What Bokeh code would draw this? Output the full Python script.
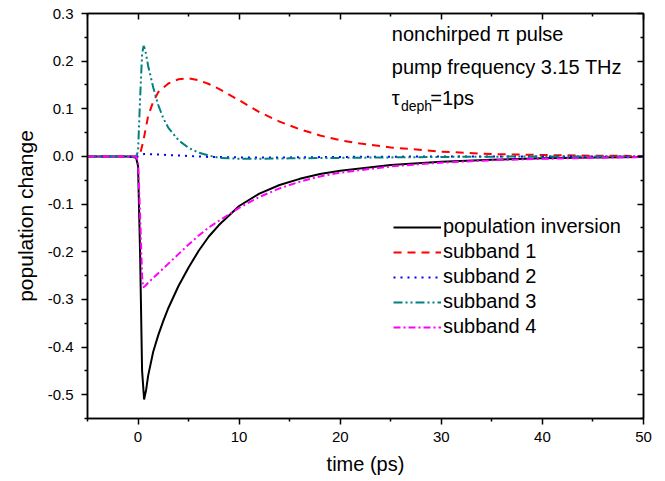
from bokeh.plotting import figure
from bokeh.models import (LinearAxis, FixedTicker, Label, Legend, LegendItem,
                          NumeralTickFormatter, Range1d, CustomJSTickFormatter)
from bokeh.embed import file_html
from bokeh.resources import INLINE

# ---------------- data ----------------
t_inv = [-5, -1, -0.2, 0, 0.2, 0.4, 0.6, 0.8, 1, 1.5, 2, 2.5, 3, 4, 5, 6, 7, 8, 10,
         12, 14, 16, 18, 20, 25, 30, 35, 40, 45, 50]
inversion = [0, 0, -0.002, -0.02, -0.2, -0.45, -0.51, -0.49, -0.46, -0.41, -0.375, -0.345,
             -0.318, -0.272, -0.233, -0.198, -0.168, -0.144, -0.104, -0.078, -0.06, -0.047,
             -0.037, -0.03, -0.018, -0.011, -0.007, -0.004, -0.002, -0.001]

t_s1 = [-5, 0, 0.2, 0.5, 1, 1.5, 2, 3, 4, 5, 6, 7, 8, 10, 12, 14, 16, 18, 20, 22, 25, 30,
        35, 40, 45, 50]
sub1 = [0, 0, 0.005, 0.03, 0.085, 0.115, 0.135, 0.153, 0.162, 0.164, 0.16, 0.152, 0.142,
        0.118, 0.093, 0.073, 0.057, 0.044, 0.034, 0.027, 0.019, 0.01, 0.005, 0.003, 0.0015, 0.001]

t_s2 = [-5, 0, 0.3, 0.6, 1, 2, 3, 5, 7, 10, 15, 20, 30, 50]
sub2 = [0, 0, 0.003, 0.005, 0.005, 0.004, 0.003, 0.001, -0.001, -0.002, -0.002, -0.001, 0, 0]

t_s3 = [-5, -0.2, 0, 0.2, 0.4, 0.55, 0.7, 1, 1.5, 2, 2.5, 3, 4, 5, 6, 7, 8, 10, 12, 15,
        20, 25, 30, 40, 50]
sub3 = [0, 0, 0.01, 0.12, 0.215, 0.232, 0.225, 0.19, 0.145, 0.108, 0.08, 0.06, 0.034, 0.018,
        0.008, 0.002, -0.003, -0.005, -0.005, -0.004, -0.003, -0.002, -0.001, 0, 0]

t_s4 = [-5, -0.2, 0, 0.2, 0.4, 0.5, 0.7, 1, 2, 3, 4, 5, 6, 7, 8, 10, 12, 14, 16, 18, 20,
        25, 30, 35, 40, 45, 50]
sub4 = [0, 0, -0.01, -0.12, -0.25, -0.275, -0.272, -0.265, -0.245, -0.225, -0.205, -0.185,
        -0.166, -0.149, -0.135, -0.108, -0.085, -0.067, -0.053, -0.042, -0.034, -0.021,
        -0.013, -0.008, -0.005, -0.003, -0.001]

x_ticks = [0, 10, 20, 30, 40, 50]
x_minor = [-5, 5, 15, 25, 35, 45]
y_ticks = [-0.5, -0.4, -0.3, -0.2, -0.1, 0.0, 0.1, 0.2, 0.3]
y_minor = [-0.55, -0.45, -0.35, -0.25, -0.15, -0.05, 0.05, 0.15, 0.25]

legend_labels = ["population inversion", "subband 1", "subband 2", "subband 3", "subband 4"]
annot_lines = ["nonchirped \u03c0 pulse", "pump frequency 3.15 THz"]

FONT = "Liberation Sans"

p = figure(width=657, height=481, output_backend="svg", toolbar_location=None,
           x_range=Range1d(-5, 50), y_range=Range1d(-0.55, 0.3),
           min_border_left=87, min_border_right=14, min_border_top=13, min_border_bottom=63)
p.grid.visible = False
p.outline_line_color = "black"
p.outline_line_width = 1.5
p.background_fill_color = "white"

for ax in p.xaxis:
    ax.ticker = FixedTicker(ticks=x_ticks, minor_ticks=x_minor)
    ax.axis_label = "time (ps)"
    ax.axis_label_text_font_size = "20px"
    ax.major_label_standoff = 7
    ax.axis_label_standoff = 8
for ax in p.yaxis:
    ax.ticker = FixedTicker(ticks=y_ticks, minor_ticks=y_minor)
    ax.axis_label = "population change"
    ax.formatter = NumeralTickFormatter(format="0.0")
    ax.axis_label_text_font_size = "21px"
    ax.major_label_standoff = 8
    ax.axis_label_standoff = 8

for ax in list(p.xaxis) + list(p.yaxis):
    ax.axis_line_width = 1.5
    ax.major_tick_line_width = 1.5
    ax.minor_tick_line_width = 1.5
    ax.major_tick_out = 6
    ax.major_tick_in = 0
    ax.minor_tick_out = 3
    ax.minor_tick_in = 0
    ax.major_label_text_font = FONT
    ax.major_label_text_font_size = "15px"
    ax.major_label_text_color = "black"
    ax.axis_label_text_font = FONT
    ax.axis_label_text_font_style = "normal"
    ax.axis_label_text_color = "black"

top = LinearAxis(ticker=FixedTicker(ticks=x_ticks, minor_ticks=x_minor))
right = LinearAxis(ticker=FixedTicker(ticks=y_ticks, minor_ticks=y_minor))
for ax in (top, right):
    ax.axis_line_width = 1.5
    ax.major_tick_line_width = 1.5
    ax.minor_tick_line_width = 1.5
    ax.major_tick_in = 6
    ax.major_tick_out = 0
    ax.minor_tick_in = 3
    ax.minor_tick_out = 0
    ax.formatter = CustomJSTickFormatter(code="return ''")
    ax.major_label_standoff = 0
p.add_layout(top, "above")
p.add_layout(right, "right")

r0 = p.line(t_inv, inversion, line_color="black", line_width=2)
r1 = p.line(t_s1, sub1, line_color="#ff0000", line_width=2, line_dash="8 6")
r2 = p.line(t_s2, sub2, line_color="#0000ff", line_width=2, line_dash="2 5")
r3 = p.line(t_s3, sub3, line_color="#008080", line_width=2, line_dash="9 3 2 3 2 3")
r4 = p.line(t_s4, sub4, line_color="#ff00ff", line_width=2, line_dash="7 3 2 3")

legend = Legend(items=[LegendItem(label=l, renderers=[r]) for l, r in
                       zip(legend_labels, [r0, r1, r2, r3, r4])],
                location=(306, 80), padding=0, margin=0, spacing=2,
                glyph_width=48, glyph_height=22, label_height=22, label_standoff=2,
                label_text_font=FONT, label_text_font_size="20px", label_text_color="black",
                border_line_alpha=0, background_fill_alpha=0)
p.add_layout(legend, "center")

for i, txt in enumerate(annot_lines):
    p.add_layout(Label(x=25.1, y=[0.258, 0.187][i], text=txt, text_font=FONT,
                       text_font_size="20px", text_baseline="middle", text_color="black"))
p.add_layout(Label(x=25.1, y=0.122, text="\u03c4", text_font=FONT, text_font_size="20px",
                   text_baseline="middle", text_color="black"))
p.add_layout(Label(x=26.0, y=0.105, text="deph", text_font=FONT, text_font_size="14px",
                   text_baseline="middle", text_color="black"))
p.add_layout(Label(x=28.9, y=0.122, text="=1ps", text_font=FONT, text_font_size="20px",
                   text_baseline="middle", text_color="black"))

open("out.html", "w").write(file_html(p, INLINE))
